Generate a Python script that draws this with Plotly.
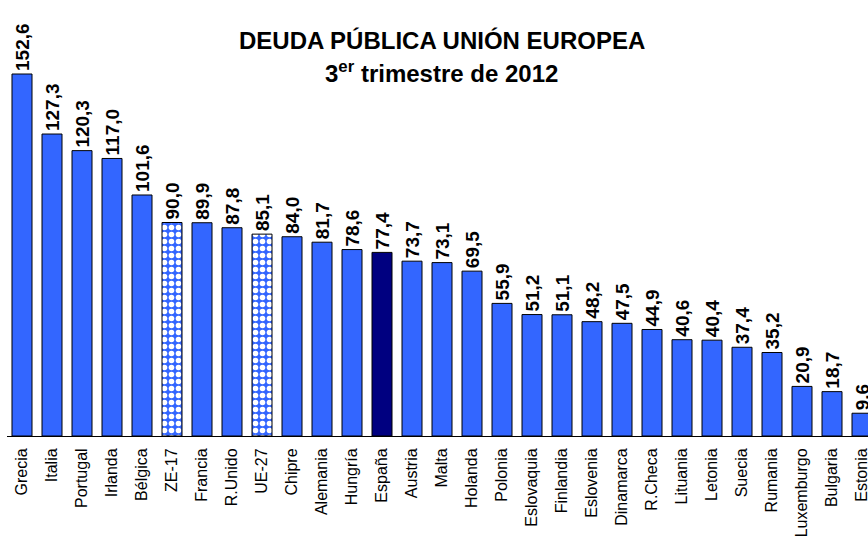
import plotly.graph_objects as go

paises = ["Grecia", "Italia", "Portugal", "Irlanda", "Bélgica", "ZE-17", "Francia",
          "R.Unido", "UE-27", "Chipre", "Alemania", "Hungría", "España", "Austria",
          "Malta", "Holanda", "Polonia", "Eslovaquia", "Finlandia", "Eslovenia",
          "Dinamarca", "R.Checa", "Lituania", "Letonia", "Suecia", "Rumania",
          "Luxemburgo", "Bulgaria", "Estonia"]
deuda = [152.6, 127.3, 120.3, 117.0, 101.6, 90.0, 89.9, 87.8, 85.1, 84.0, 81.7,
         78.6, 77.4, 73.7, 73.1, 69.5, 55.9, 51.2, 51.1, 48.2, 47.5, 44.9, 40.6,
         40.4, 37.4, 35.2, 20.9, 18.7, 9.6]
agregados = ["ZE-17", "UE-27"]
destacado = "España"

AZUL = "#3366FF"
MARINO = "#000080"

colores = [MARINO if p == destacado else AZUL for p in paises]
formas = ["." if p in agregados else "" for p in paises]
etiquetas = [f"{v:.1f}".replace(".", ",") for v in deuda]

fig = go.Figure()
fig.add_trace(go.Bar(
    x=paises, y=deuda,
    marker=dict(color=colores, line=dict(color="#000000", width=1),
                pattern=dict(shape=formas, fgcolor="#FFFFFF", bgcolor=AZUL,
                             fgopacity=1, size=7, solidity=0.5, fillmode="overlay")),
    text=etiquetas, textposition="outside", textangle=-90, constraintext="none",
    textfont=dict(family="Liberation Sans, Arial", size=19, color="#000000", weight="bold"),
    cliponaxis=False,
))

fig.update_layout(
    width=868, height=538,
    margin=dict(l=7, r=0, t=0, b=102),
    paper_bgcolor="#FFFFFF", plot_bgcolor="#FFFFFF",
    bargap=0.333, showlegend=False,
    font=dict(family="Liberation Sans, Arial", color="#000000"),
    xaxis=dict(range=[-0.5, 28.2], showline=True, linecolor="#000000", linewidth=1,
               ticks="outside", ticklen=5, tickcolor="rgba(0,0,0,0)",
               tickangle=-90, tickfont=dict(size=16, color="#000000"),
               showgrid=False, automargin=False),
    yaxis=dict(range=[0, 183.8], visible=False, showgrid=False, automargin=False),
    annotations=[
        dict(text="<b>DEUDA PÚBLICA UNIÓN EUROPEA</b>", xref="paper", yref="paper",
             x=0.505, y=0.906, yanchor="middle", showarrow=False,
             font=dict(size=24, color="#000000")),
        dict(text="<b>3<sup>er</sup> trimestre de 2012</b>", xref="paper", yref="paper",
             x=0.505, y=0.835, yanchor="middle", showarrow=False,
             font=dict(size=24, color="#000000")),
    ],
)

fig.write_html("out.html", config={"displayModeBar": False},
               post_script="document.body.style.margin='0px';")
